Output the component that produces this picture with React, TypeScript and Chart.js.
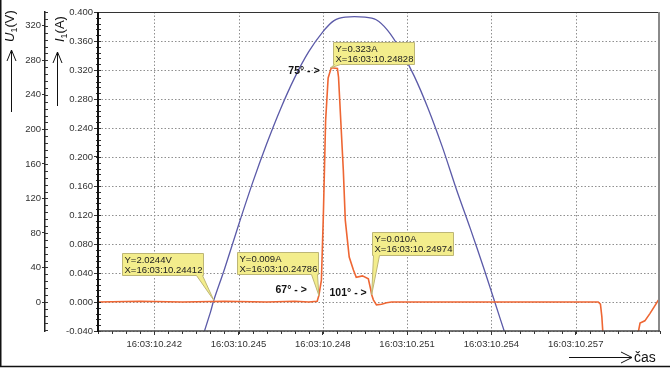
import React, { useEffect, useRef } from 'react';
import { Chart, registerables } from 'chart.js';
Chart.register(...registerables);

// time axis: milliseconds after 16:03:10.240
const X_TICKS = [2, 5, 8, 11, 14, 17];
const X_LABELS = ['16:03:10.242', '16:03:10.245', '16:03:10.248', '16:03:10.251', '16:03:10.254', '16:03:10.257'];
const I_TICKS = [-0.04, 0, 0.04, 0.08, 0.12, 0.16, 0.2, 0.24, 0.28, 0.32, 0.36, 0.4];
const U_TICKS = [0, 40, 80, 120, 160, 200, 240, 280, 320];

// voltage U1 (V)
const U_TIME = [3.5, 4.0, 4.12, 4.5, 5.0, 5.5, 6.0, 6.5, 7.0, 7.5, 8.0, 8.4, 8.8, 9.5, 9.9, 10.3, 10.75, 11.25, 11.75, 12.25, 12.75, 13.25, 13.75, 14.12, 14.5, 15.0];
const U_VALUES = [-63, -12, 2.0244, 38, 89, 138, 183, 224, 260, 290, 313, 326, 330, 330, 327, 315, 293, 262, 224, 180, 131, 85, 37, 0, -38, -86];

// current I1 (A)
const I_TIME = [0, 1.5, 3, 4.5, 6, 7.0, 7.5, 7.8, 7.86, 7.95, 8.02, 8.10, 8.19, 8.30, 8.52, 8.56, 8.73, 8.80, 8.94, 9.09, 9.19, 9.41, 9.62, 9.70, 9.74, 9.80, 9.91, 10.09, 10.27, 10.45, 12, 14, 16, 17.80, 17.88, 17.93, 17.98, 18.3, 19.0, 19.21, 19.29, 19.46, 19.64, 19.82, 19.93, 20.0];
const I_VALUES = [0.000, 0.001, 0.000, 0.001, 0.000, 0.001, 0.000, 0.001, 0.009, 0.03, 0.12, 0.25, 0.309, 0.323, 0.322, 0.31, 0.182, 0.113, 0.062, 0.044, 0.034, 0.036, 0.032, 0.018, 0.010, 0.003, -0.004, -0.003, -0.001, 0.000, 0.000, 0.000, 0.000, 0.000, -0.003, -0.02, -0.05, -0.10, -0.10, -0.045, -0.029, -0.026, -0.016, -0.005, 0.002, 0.002];

// cursor markers
const MARK_AXIS = ['yU', 'yI', 'yI', 'yI'];
const MARK_T = [4.12, 7.86, 8.28, 9.74];
const MARK_V = [2.0244, 0.009, 0.323, 0.010];
const MARK_Y_TEXT = ['Y=2.0244V', 'Y=0.009A', 'Y=0.323A', 'Y=0.010A'];
const MARK_X_TEXT = ['X=16:03:10.24412', 'X=16:03:10.24786', 'X=16:03:10.24828', 'X=16:03:10.24974'];
const ANGLE_TEXT = ['67° - >', '75° - >', '101° - >'];
const ANGLE_MARK = [1, 2, 3];

const FONT = "'Liberation Sans', Arial, sans-serif";

// layout of boxes relative to their anchor (dx, dy, w, h, tail side)
const BOX_LAYOUT = [
  { dx: -92, dy: -47, w: 81, h: 22, tail: 'right' },
  { dx: -81.5, dy: -43.5, w: 81, h: 22, tail: 'right' },
  { dx: 2, dy: -26, w: 81, h: 22, tail: 'left' },
  { dx: 0, dy: -63, w: 81, h: 23, tail: 'left' },
];
const ANGLE_LAYOUT = [
  { dx: -12, dy: -5 },
  { dx: -11, dy: 3 },
  { dx: -5, dy: -2 },
];

function line(ctx: CanvasRenderingContext2D, x1: number, y1: number, x2: number, y2: number) {
  ctx.beginPath();
  ctx.moveTo(x1, y1);
  ctx.lineTo(x2, y2);
  ctx.stroke();
}

const deco = {
  id: 'deco',
  beforeDatasetsDraw(chart: any) {
    const ctx: CanvasRenderingContext2D = chart.ctx;
    const { left, right, top, bottom } = chart.chartArea;
    const xs = chart.scales.x;
    const yI = chart.scales.yI;
    ctx.save();
    ctx.strokeStyle = '#8f8f8f';
    ctx.lineWidth = 1;
    ctx.setLineDash([1.5, 2]);
    for (const v of X_TICKS) {
      const px = Math.round(xs.getPixelForValue(v)) + 0.5;
      line(ctx, px, top, px, bottom);
    }
    for (const v of I_TICKS) {
      const py = Math.round(yI.getPixelForValue(v)) + 0.5;
      line(ctx, left, py, right, py);
    }
    ctx.restore();
  },
  afterDraw(chart: any) {
    const ctx: CanvasRenderingContext2D = chart.ctx;
    const { left, right, top, bottom } = chart.chartArea;
    const xs = chart.scales.x;
    const yI = chart.scales.yI;
    const yU = chart.scales.yU;
    ctx.save();

    // minor ticks
    ctx.strokeStyle = '#333';
    ctx.lineWidth = 1;
    for (let k = 0; k <= 40; k++) {
      const px = Math.round(xs.getPixelForValue(k * 0.5)) + 0.5;
      line(ctx, px, bottom, px, bottom + 3);
    }
    for (let k = 0; k <= 55; k++) {
      const py = Math.round(yI.getPixelForValue(-0.04 + k * 0.008)) + 0.5;
      line(ctx, left - 2, py, left + 3, py);
    }
    for (let k = 0; k <= 46; k++) {
      const py = Math.round(yU.getPixelForValue(-32 + k * 8)) + 0.5;
      line(ctx, yU.right, py, yU.right + 3, py);
    }

    // plot frame
    ctx.strokeStyle = '#333';
    ctx.lineWidth = 1;
    line(ctx, left, top + 0.5, right, top + 0.5);
    ctx.strokeStyle = '#8a8a8a';
    ctx.lineWidth = 2;
    line(ctx, right - 1, top, right - 1, bottom);
    ctx.strokeStyle = '#444';
    ctx.lineWidth = 1.5;
    line(ctx, left, bottom, right, bottom);
    ctx.strokeStyle = '#111';
    ctx.lineWidth = 2;
    line(ctx, left, top, left, bottom + 1);

    // marker boxes
    for (let i = 0; i < MARK_T.length; i++) {
      const ax = xs.getPixelForValue(MARK_T[i]);
      const ay = chart.scales[MARK_AXIS[i]].getPixelForValue(MARK_V[i]);
      const L = BOX_LAYOUT[i];
      const bx = Math.round(ax + L.dx) + 0.5;
      const by = Math.round(ay + L.dy) + 0.5;
      const bb = by + L.h;
      const t1 = L.tail === 'right' ? bx + L.w - 7 : bx + 1;
      const t2 = t1 + 6;
      ctx.beginPath();
      ctx.moveTo(bx, by);
      ctx.lineTo(bx + L.w, by);
      ctx.lineTo(bx + L.w, bb);
      ctx.lineTo(t2, bb);
      ctx.lineTo(ax, ay);
      ctx.lineTo(t1, bb);
      ctx.lineTo(bx, bb);
      ctx.closePath();
      ctx.fillStyle = '#f3ed8c';
      ctx.fill();
      ctx.strokeStyle = '#bdb676';
      ctx.lineWidth = 1;
      ctx.stroke();
      ctx.fillStyle = '#222';
      ctx.font = `9.5px ${FONT}`;
      ctx.textAlign = 'left';
      ctx.textBaseline = 'middle';
      ctx.fillText(MARK_Y_TEXT[i], bx + 2, by + 6.5);
      ctx.fillText(MARK_X_TEXT[i], bx + 2, by + 16.5);
    }

    // angle labels
    ctx.font = `bold 10.5px ${FONT}`;
    ctx.fillStyle = '#111';
    ctx.textAlign = 'right';
    ctx.textBaseline = 'middle';
    for (let i = 0; i < ANGLE_TEXT.length; i++) {
      const m = ANGLE_MARK[i];
      const ax = xs.getPixelForValue(MARK_T[m]);
      const ay = chart.scales[MARK_AXIS[m]].getPixelForValue(MARK_V[m]);
      ctx.fillText(ANGLE_TEXT[i], ax + ANGLE_LAYOUT[i].dx, ay + ANGLE_LAYOUT[i].dy);
    }

    // axis titles
    const vTitle = (x: number, yb: number, main: string, sub: string, unit: string) => {
      ctx.save();
      ctx.translate(x, yb);
      ctx.rotate(-Math.PI / 2);
      ctx.textAlign = 'left';
      ctx.textBaseline = 'alphabetic';
      ctx.fillStyle = '#111';
      ctx.font = `italic 13px ${FONT}`;
      ctx.fillText(main, 0, 0);
      let w = ctx.measureText(main).width;
      ctx.font = `9px ${FONT}`;
      ctx.fillText(sub, w, 3);
      w += ctx.measureText(sub).width;
      ctx.font = `13px ${FONT}`;
      ctx.fillText(unit, w, 0);
      ctx.restore();
    };
    vTitle(14, 42, 'U', '1', '(V)');
    vTitle(64, 42, 'I', '1', '(A)');

    ctx.strokeStyle = '#111';
    ctx.lineWidth = 1;
    line(ctx, 11.5, 112, 11.5, 50);
    ctx.beginPath();
    ctx.moveTo(7, 61); ctx.lineTo(11.5, 50); ctx.lineTo(16, 61);
    ctx.stroke();
    line(ctx, 57.5, 106, 57.5, 52);
    ctx.beginPath();
    ctx.moveTo(53, 63); ctx.lineTo(57.5, 52); ctx.lineTo(62, 63);
    ctx.stroke();
    line(ctx, 569, 357.5, 632, 357.5);
    ctx.beginPath();
    ctx.moveTo(621, 352); ctx.lineTo(632, 357.5); ctx.lineTo(621, 363);
    ctx.stroke();
    ctx.font = `14px ${FONT}`;
    ctx.textAlign = 'left';
    ctx.textBaseline = 'alphabetic';
    ctx.fillStyle = '#111';
    ctx.fillText('čas', 634, 362);

    // outer frame (left and bottom)
    ctx.strokeStyle = '#111';
    ctx.lineWidth = 1.5;
    line(ctx, 0.75, 0, 0.75, 367);
    line(ctx, 0, 366.5, 670, 366.5);
    ctx.restore();
  },
};

export default function App() {
  const ref = useRef<HTMLCanvasElement>(null);
  useEffect(() => {
    if (!ref.current) return;
    const chart = new Chart(ref.current, {
      type: 'line',
      data: {
        datasets: [
          {
            label: 'I1',
            data: I_TIME.map((t, i) => ({ x: t, y: I_VALUES[i] })),
            yAxisID: 'yI',
            borderColor: '#ee6633',
            borderWidth: 1.6,
            pointRadius: 0,
            tension: 0,
            order: 0,
            clip: 0,
          },
          {
            label: 'U1',
            data: U_TIME.map((t, i) => ({ x: t, y: U_VALUES[i] })),
            yAxisID: 'yU',
            borderColor: '#5b5aa8',
            borderWidth: 1.3,
            pointRadius: 0,
            tension: 0.3,
            order: 1,
            clip: 0,
          },
        ],
      },
      options: {
        animation: false,
        responsive: false,
        maintainAspectRatio: false,
        layout: { padding: { top: 12, right: 10, left: 0, bottom: 0 } },
        plugins: { legend: { display: false }, tooltip: { enabled: false } },
        scales: {
          x: {
            type: 'linear',
            min: 0,
            max: 20,
            afterFit: (s: any) => { s.height = 38; },
            afterBuildTicks: (s: any) => { s.ticks = X_TICKS.map((v) => ({ value: v })); },
            ticks: {
              callback: (_v: any, i: number) => X_LABELS[i],
              font: { family: FONT, size: 9.5 },
              color: '#333',
              padding: 4,
              maxRotation: 0,
              autoSkip: false,
            },
            grid: { drawOnChartArea: false, drawTicks: true, tickLength: 4, tickColor: '#333' },
            border: { display: false },
          },
          yI: {
            type: 'linear',
            position: 'left',
            weight: 0,
            min: -0.04,
            max: 0.4,
            afterFit: (s: any) => { s.width = 53; },
            afterBuildTicks: (s: any) => { s.ticks = I_TICKS.map((v) => ({ value: v })); },
            ticks: {
              callback: (v: any) => Number(v).toFixed(3),
              font: { family: FONT, size: 9.5 },
              color: '#333',
              padding: 1,
              autoSkip: false,
            },
            grid: { drawOnChartArea: false, drawTicks: true, tickLength: 4, tickColor: '#333' },
            border: { display: false },
          },
          yU: {
            type: 'linear',
            position: 'left',
            weight: 10,
            min: -33.6,
            max: 336,
            afterFit: (s: any) => { s.width = 45; },
            afterBuildTicks: (s: any) => { s.ticks = U_TICKS.map((v) => ({ value: v })); },
            ticks: {
              callback: (v: any) => String(v),
              font: { family: FONT, size: 9.5 },
              color: '#333',
              padding: 1,
              autoSkip: false,
            },
            grid: { drawOnChartArea: false, drawTicks: true, tickLength: 3, tickColor: '#333' },
            border: { display: true, color: '#222', width: 1.5 },
          },
        },
      },
      plugins: [deco],
    });
    return () => chart.destroy();
  }, []);
  return (
    <div style={{ position: 'fixed', left: 0, top: 0, width: 670, height: 369, background: '#fff' }}>
      <canvas ref={ref} width={670} height={369} style={{ display: 'block' }} />
    </div>
  );
}
